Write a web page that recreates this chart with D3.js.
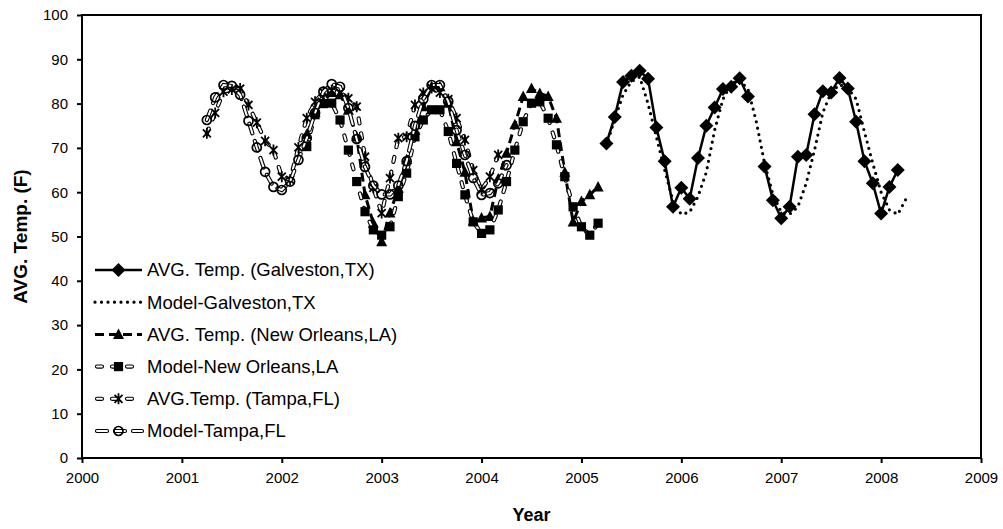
<!DOCTYPE html>
<html>
<head>
<meta charset="utf-8">
<script src="https://cdn.jsdelivr.net/npm/d3@7"></script>
<style>
    body { margin: 0; background: #fff; }
    text { font-family: "Liberation Sans", Arial, sans-serif; fill: #000; }
    .axis text { font-size: 15px; }
    .axis line { stroke: #000; stroke-width: 2; }
    .axis path { display: none; }
    .title { font-size: 18px; font-weight: bold; }
    .ytitle { font-size: 19px; font-weight: bold; }
    .legendText { font-size: 18.5px; }
</style>
</head>
<body>
<script>
// monthly averages (deg F); null = month not plotted
var yearTicks = [2000, 2001, 2002, 2003, 2004, 2005, 2006, 2007, 2008, 2009];
var tempTicks = [0, 10, 20, 30, 40, 50, 60, 70, 80, 90, 100];

// first month of each series [year, month]
var galvestonObsStart = [2005, 4];
var galvestonModelStart = [2005, 4];
var newOrleansObsStart = [2002, 4];
var newOrleansModelStart = [2002, 4];
var tampaObsStart = [2001, 4];
var tampaModelStart = [2001, 4];

var galvestonObs = [71.0, 77.0, 84.9, 86.3, 87.4, 85.6, 74.6, 67.0, 56.7,
    61.0, 58.5, 67.7, 75.0, 79.1, 83.3, 83.8, 85.7, 81.6, null, 65.8, 58.2,
    54.1, 56.7, 68.0, 68.4, 77.6, 82.8, 82.5, 85.8, 83.4, 75.9, 67.0, 62.0,
    55.2, 61.2, 65.0];
var galvestonModel = [70.5, 76.5, 82.0, 85.0, 86.0, 80.0, 72.5, 65.0, 58.0,
    55.0, 55.5, 59.0, 64.5, 74.0, 81.0, 84.5, 85.3, 83.3, 76.0, 66.5, 59.5,
    55.5, 55.0, 56.7, 62.0, 69.5, 78.0, 82.5, 84.3, 83.5, 81.0, 73.6, 66.5,
    60.0, 56.0, 55.0, 58.5];
var newOrleansObs = [73.0, 78.0, 80.5, 82.5, 82.0, 78.5, 72.5, 59.4, 53.0,
    48.8, 55.3, 60.9, 67.3, 74.0, 79.3, 83.8, 83.8, 80.1, 71.4, 64.5, 53.5,
    54.2, 54.5, 63.0, 68.8, 75.2, 81.6, 83.4, 82.3, 81.6, 76.7, 64.5, 53.3,
    57.9, 59.4, 61.2];
var newOrleansModel = [70.3, 77.5, 80.0, 80.1, 76.3, 69.5, 62.4, 55.6, 51.5,
    50.3, 52.2, 59.0, 64.3, 72.5, 76.3, 78.6, 78.6, 73.7, 66.5, 59.4, 53.3,
    50.7, 51.5, 56.0, 62.4, 69.5, 75.9, 80.1, 80.4, 76.7, 70.7, 63.5, 56.7,
    52.2, 50.3, 53.0];
var tampaObs = [73.3, 77.9, 82.7, 83.2, 83.4, 79.7, 75.7, 71.6, 69.5,
    63.5, 62.8, 70.1, 76.7, 80.4, 82.6, 83.0, 82.5, 81.2, 79.3, 68.0, 61.0,
    55.3, 63.2, 72.2, 72.5, 79.7, 82.4, 83.5, 82.5, 81.0, 76.7, 71.8, 65.0,
    60.5, 63.5, 68.4];
var tampaModel = [76.3, 81.4, 84.2, 84.0, 82.0, 76.1, 70.1, 64.6, 61.2,
    60.5, 62.4, 67.3, 72.2, 77.9, 82.7, 84.4, 83.8, 79.0, 72.0, 65.7, 61.5,
    59.5, 59.5, 61.5, 67.0, 75.0, 81.0, 84.2, 84.2, 80.5, 74.0, 68.4, 63.2,
    59.4, 59.8, 62.0, 66.1];

var seriesNames = ["AVG. Temp. (Galveston,TX)", "Model-Galveston,TX",
    "AVG. Temp. (New Orleans,LA)", "Model-New Orleans,LA",
    "AVG.Temp. (Tampa,FL)", "Model-Tampa,FL"];

(function(){
    var width = 1003,
        height = 529;

    var x = d3.scaleLinear().domain([2000, 2009]).range([82, 981]);
    var y = d3.scaleLinear().domain([0, 100]).range([458, 15]);

    var svg = d3.select("body")
        .append("svg")
        .attr("width", width)
        .attr("height", height);

    //turn a start month + monthly values into points
    function toPoints(start, values){
        return values.map(function(v, i){
            var m = start[1] - 1 + i;
            return {t: start[0] + m / 12, v: v};
        });
    }

    //marker shapes
    var markers = {
        diamond: {d: "M0,-7L7,0L0,7L-7,0Z", fill: "#000", stroke: "none", sw: 0},
        triangle: {d: "M0,-6L5.5,4.5L-5.5,4.5Z", fill: "#000", stroke: "none", sw: 0},
        square: {d: "M-4.6,-4.6H4.6V4.6H-4.6Z", fill: "#000", stroke: "none", sw: 0},
        star: {d: "M-4,-4L4,4M-4,4L4,-4M0,-5.5V5.5", fill: "none", stroke: "#000", sw: 1.8},
        circle: {d: "M4.5,0A4.5,4.5 0 1,1 -4.5,0A4.5,4.5 0 1,1 4.5,0Z", fill: "none", stroke: "#000", sw: 1.7}
    };

    var series = [
        {name: seriesNames[0], pts: toPoints(galvestonObsStart, galvestonObs), line: "solid", marker: "diamond"},
        {name: seriesNames[1], pts: toPoints(galvestonModelStart, galvestonModel), line: "dotted", marker: null},
        {name: seriesNames[2], pts: toPoints(newOrleansObsStart, newOrleansObs), line: "dashed", marker: "triangle"},
        {name: seriesNames[3], pts: toPoints(newOrleansModelStart, newOrleansModel), line: "hollow", dash: "5,10", marker: "square"},
        {name: seriesNames[4], pts: toPoints(tampaObsStart, tampaObs), line: "hollow", dash: "5,10", marker: "star"},
        {name: seriesNames[5], pts: toPoints(tampaModelStart, tampaModel), line: "hollow", dash: "10,8", marker: "circle"}
    ];

    //axes
    var xAxis = d3.axisBottom(x)
        .tickValues(yearTicks)
        .tickFormat(d3.format("d"))
        .tickSize(5)
        .tickPadding(9);
    svg.append("g")
        .attr("class", "axis")
        .attr("transform", "translate(0," + y(0) + ")")
        .call(xAxis);

    var yAxis = d3.axisLeft(y)
        .tickValues(tempTicks)
        .tickSize(5)
        .tickPadding(9);
    svg.append("g")
        .attr("class", "axis")
        .attr("transform", "translate(" + x(2000) + ",0)")
        .call(yAxis);

    //plot frame
    svg.append("rect")
        .attr("x", x(2000))
        .attr("y", y(100))
        .attr("width", x(2009) - x(2000))
        .attr("height", y(0) - y(100))
        .attr("fill", "none")
        .attr("stroke", "#000")
        .attr("stroke-width", 2);

    //line styles
    function styleLine(sel, s, layer){
        sel.attr("fill", "none").attr("stroke", "#000");
        if (s.line == "solid"){
            sel.attr("stroke-width", 2.5);
        } else if (s.line == "dotted"){
            sel.attr("stroke-width", 3.2)
                .attr("stroke-dasharray", "0,6.5")
                .attr("stroke-linecap", "round");
        } else if (s.line == "dashed"){
            sel.attr("stroke-width", 3)
                .attr("stroke-dasharray", "9,5");
        } else if (s.line == "hollow"){
            sel.attr("stroke-dasharray", s.dash)
                .attr("stroke-linecap", "round")
                .attr("stroke-width", layer == 0 ? 4.2 : 2)
                .attr("stroke", layer == 0 ? "#000" : "#fff");
        }
    }

    var line = d3.line()
        .defined(function(d){ return d.v != null; })
        .x(function(d){ return x(d.t); })
        .y(function(d){ return y(d.v); });

    var plot = svg.append("g").attr("class", "plot");

    series.forEach(function(s){
        var g = plot.append("g");
        var layers = s.line == "hollow" ? [0, 1] : [0];
        layers.forEach(function(layer){
            g.append("path")
                .datum(s.pts)
                .attr("d", line)
                .call(styleLine, s, layer);
        });
        if (s.marker){
            var mk = markers[s.marker];
            g.selectAll(".mk")
                .data(s.pts.filter(function(d){ return d.v != null; }))
                .enter()
                .append("path")
                .attr("class", "mk")
                .attr("transform", function(d){
                    return "translate(" + x(d.t) + "," + y(d.v) + ")";
                })
                .attr("d", mk.d)
                .attr("fill", mk.fill)
                .attr("stroke", mk.stroke)
                .attr("stroke-width", mk.sw);
        }
    });

    //legend
    var legend = svg.append("g").attr("class", "legend");
    series.forEach(function(s, i){
        var ly = 270 + i * 32.2;
        var lg = legend.append("g");
        var layers = s.line == "hollow" ? [0, 1] : [0];
        layers.forEach(function(layer){
            lg.append("line")
                .attr("x1", s.line == "hollow" ? 97 : 95)
                .attr("x2", 142)
                .attr("y1", ly)
                .attr("y2", ly)
                .call(styleLine, s, layer);
        });
        if (s.marker){
            var mk = markers[s.marker];
            lg.append("path")
                .attr("transform", "translate(118.5," + ly + ")")
                .attr("d", mk.d)
                .attr("fill", mk.fill)
                .attr("stroke", mk.stroke)
                .attr("stroke-width", mk.sw);
        }
        lg.append("text")
            .attr("class", "legendText")
            .attr("x", 147)
            .attr("y", ly)
            .attr("dy", "0.35em")
            .text(s.name);
    });

    //axis titles
    svg.append("text")
        .attr("class", "ytitle")
        .attr("text-anchor", "middle")
        .attr("transform", "translate(27," + ((y(0) + y(100)) / 2) + ") rotate(-90)")
        .text("AVG. Temp. (F)");

    svg.append("text")
        .attr("class", "title")
        .attr("text-anchor", "middle")
        .attr("x", (x(2000) + x(2009)) / 2)
        .attr("y", 521)
        .text("Year");
})();
</script>
</body>
</html>
